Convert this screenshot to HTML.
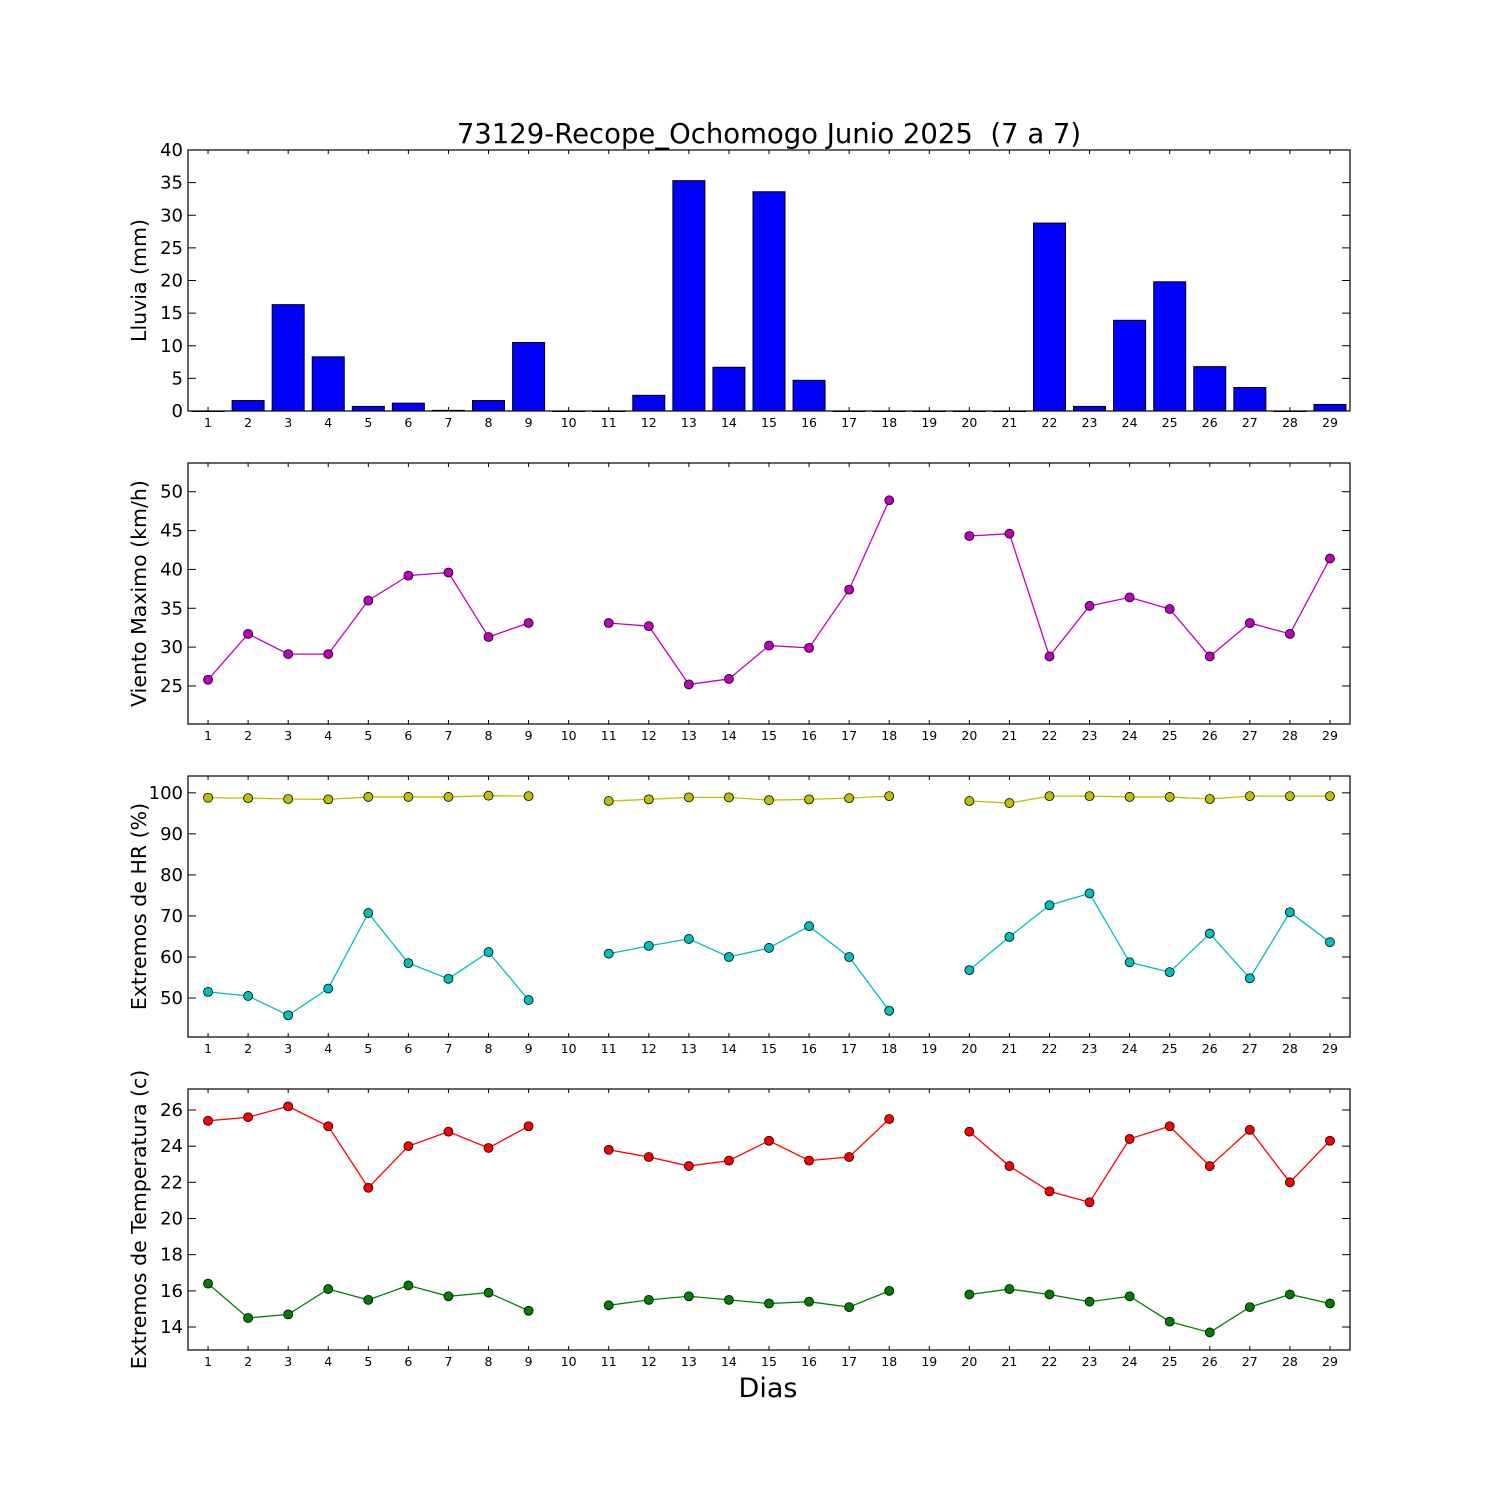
<!DOCTYPE html>
<html><head><meta charset="utf-8"><style>
html,body{margin:0;padding:0;background:#fff}
svg{display:block;font-family:"DejaVu Sans","Liberation Sans",sans-serif}
</style></head><body>
<svg id="chart" width="1500" height="1500" viewBox="0 0 1500 1500" xmlns="http://www.w3.org/2000/svg">
<rect width="1500" height="1500" fill="#fff"/>
<text x="769" y="143" font-size="27.5" text-anchor="middle" xml:space="preserve" style="white-space:pre">73129-Recope_Ochomogo Junio 2025  (7 a 7)</text>
<text x="768" y="1397" font-size="27" text-anchor="middle">Dias</text>
</svg>
<script>
const days = [1,2,3,4,5,6,7,8,9,10,11,12,13,14,15,16,17,18,19,20,21,22,23,24,25,26,27,28,29];
const rain = [0,1.6,16.3,8.3,0.7,1.2,0.1,1.6,10.5,0,0,2.4,35.3,6.7,33.6,4.7,0,0,0,0,0,28.8,0.7,13.9,19.8,6.8,3.6,0,1.0];
const windMax = [25.8,31.7,29.1,29.1,36.0,39.2,39.6,31.3,33.1,null,33.1,32.7,25.2,25.9,30.2,29.9,37.4,48.9,null,44.3,44.6,28.8,35.3,36.4,34.9,28.8,33.1,31.7,41.4];
const hrMax = [98.8,98.7,98.5,98.4,99.0,99.0,99.0,99.3,99.2,null,98.0,98.4,98.9,98.9,98.2,98.4,98.7,99.2,null,98.0,97.5,99.2,99.2,99.0,99.0,98.5,99.2,99.2,99.2];
const hrMin = [51.5,50.5,45.8,52.3,70.7,58.5,54.7,61.2,49.5,null,60.8,62.7,64.4,60.0,62.2,67.5,60.0,46.9,null,56.8,64.9,72.6,75.5,58.7,56.3,65.7,54.8,70.9,63.6];
const tMax = [25.4,25.6,26.2,25.1,21.7,24.0,24.8,23.9,25.1,null,23.8,23.4,22.9,23.2,24.3,23.2,23.4,25.5,null,24.8,22.9,21.5,20.9,24.4,25.1,22.9,24.9,22.0,24.3];
const tMin = [16.4,14.5,14.7,16.1,15.5,16.3,15.7,15.9,14.9,null,15.2,15.5,15.7,15.5,15.3,15.4,15.1,16.0,null,15.8,16.1,15.8,15.4,15.7,14.3,13.7,15.1,15.8,15.3];
const rainTicks = [0,5,10,15,20,25,30,35,40];
const windTicks = [25,30,35,40,45,50];
const hrTicks = [50,60,70,80,90,100];
const tTicks = [14,16,18,20,22,24,26];

const svg = document.getElementById('chart');
const NS = 'http://www.w3.org/2000/svg';
const L = 188, R = 1350;
function xs(d){ return L + (d - 0.5) * (R - L) / 29; }
function mk(tag, attrs, parent){
  const e = document.createElementNS(NS, tag);
  for (const k in attrs) e.setAttribute(k, attrs[k]);
  (parent || svg).appendChild(e);
  return e;
}
function panel(name, top, bot, ymin, ymax, ticks, label){
  const g = mk('g', {});
  
  
  const ys = v => bot - (v - ymin) / (ymax - ymin) * (bot - top);
  ticks.forEach(t => {
    const y = ys(t);
    mk('line', {x1:L, x2:L+8, y1:y, y2:y, stroke:'#000'}, g);
    mk('line', {x1:R, x2:R-8, y1:y, y2:y, stroke:'#000'}, g);
    const tx = mk('text', {x:L-5, y:y+6, 'font-size':18, 'text-anchor':'end'}, g);
    tx.textContent = t;
    
    
  });
  days.forEach(d => {
    const x = xs(d);
    mk('line', {x1:x, x2:x, y1:bot, y2:bot-4, stroke:'#000'}, g);
    mk('line', {x1:x, x2:x, y1:top, y2:top+4, stroke:'#000'}, g);
    const tx = mk('text', {x:x, y:bot+16, 'font-size':12.5, 'text-anchor':'middle'}, g);
    tx.textContent = d;
    
    
  });
  const yl = mk('text', {x:0, y:0, 'font-size':20.5, 'text-anchor':'middle', transform:'translate(146,' + ((top+bot)/2) + ') rotate(-90)'}, g);
  yl.textContent = label;
  
  
  return {g, ys, top, bot};
}
function frame(p){
  mk('rect', {x:L, y:p.top, width:R-L, height:p.bot-p.top, fill:'none', stroke:'#000', 'stroke-width':1.2}, p.g);
}
function series(p, vals, color, name){
  let seg = [];
  const segs = [];
  vals.forEach((v, i) => {
    if (v === null) { if (seg.length) segs.push(seg); seg = []; }
    else seg.push([xs(days[i]), p.ys(v)]);
  });
  if (seg.length) segs.push(seg);
  segs.forEach(s => {
    const pl = mk('polyline', {points:s.map(q => q.join(',')).join(' '), fill:'none', stroke:color, 'stroke-width':1.3}, p.g);
    
    
  });
  segs.flat().forEach(q => {
    const c = mk('circle', {cx:q[0], cy:q[1], r:4.5, fill:color, stroke:'#000', 'stroke-width':0.8}, p.g);
    
    
  });
}

const p1 = panel('rain', 150, 411, 0, 40, rainTicks, 'Lluvia (mm)');
rain.forEach((v, i) => {
  const x = xs(days[i]) - 16, y = p1.ys(v);
  const b = mk('rect', {x:x, y:y, width:32, height:Math.max(p1.ys(0) - y, 0.5), fill:'#0000ff', stroke:'#000', 'stroke-width':1}, p1.g);
  
  
});
frame(p1);

const p2 = panel('wind', 463, 724, 20.1, 53.7, windTicks, 'Viento Maximo (km/h)');
series(p2, windMax, '#bf00bf', 'wind-max');
frame(p2);

const p3 = panel('humidity', 776, 1037, 40.5, 104.1, hrTicks, 'Extremos de HR (%)');
series(p3, hrMax, '#bfbf00', 'hr-max');
series(p3, hrMin, '#00bfbf', 'hr-min');
frame(p3);

const p4 = panel('temperature', 1089, 1350, 12.73, 27.16, tTicks, 'Extremos de Temperatura (c)');
series(p4, tMax, '#ff0000', 'temp-max');
series(p4, tMin, '#008000', 'temp-min');
frame(p4);
</script>
</body></html>
